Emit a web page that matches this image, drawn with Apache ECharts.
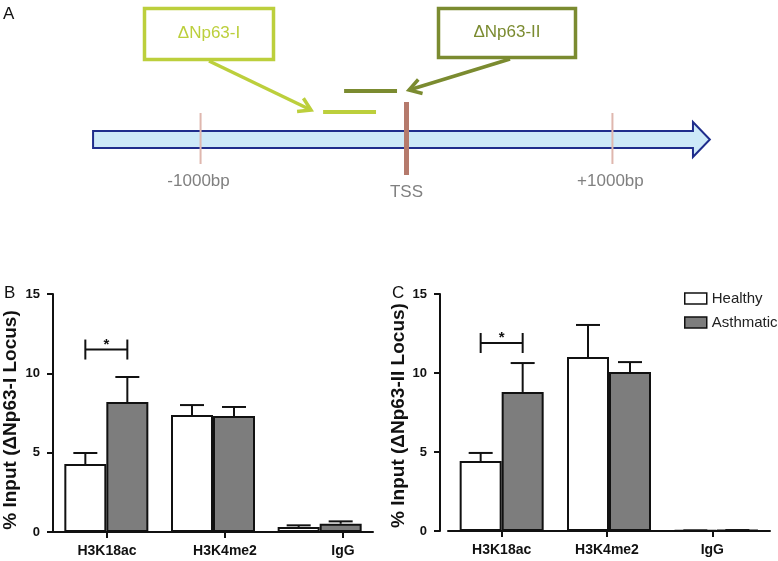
<!DOCTYPE html>
<html>
<head>
<meta charset="utf-8">
<script src="https://cdn.jsdelivr.net/npm/echarts@6/dist/echarts.min.js"></script>
<style>
  html, body { margin: 0; padding: 0; background: #fff; }
  #chart { width: 778px; height: 561px; }
</style>
</head>
<body>
<div id="chart"></div>
<script>
// bar chart data (B: ΔNp63-I locus, C: ΔNp63-II locus)
const categories = ['H3K18ac', 'H3K4me2', 'IgG'];
const healthyI = [4.28, 7.37, 0.32];
const healthyIErr = [0.70, 0.63, 0.10];
const asthmaticI = [8.19, 7.31, 0.52];
const asthmaticIErr = [1.58, 0.57, 0.15];
const healthyII = [4.43, 11.01, 0.03];
const healthyIIErr = [0.51, 2.03, 0.01];
const asthmaticII = [8.80, 10.06, 0.05];
const asthmaticIIErr = [1.83, 0.63, 0.01];
// significance brackets: [category index, height]
const sigI = [[0, 11.5]];
const sigII = [[0, 11.9]];

// promoter diagram (bp relative to TSS)
const geneArrow = [[-1522, 1391, 1473]]; // start, head start, tip
const siteMarks = [-1000, 0, 1000];
const siteLabels = ['-1000bp', 'TSS', '+1000bp'];
const primerSpans = [[-405, -148], [-303, -46]];
const primerNames = ['ΔNp63-I', 'ΔNp63-II'];

const FONT = 'Arial, "Liberation Sans", sans-serif';
const LIGHT = '#bccf3c';
const OLIVE = '#7b8b30';
const HALF = 21; // half bar width, bars sit side by side

function errRender(shift) {
  return function (params, api) {
    const i = api.value(0), m = api.value(1), e = api.value(2);
    const base = api.coord([i, m]);
    const top = api.coord([i, m + e]);
    const x = base[0] + shift;
    const st = { stroke: '#111', lineWidth: 2 };
    return {
      type: 'group',
      children: [
        { type: 'line', shape: { x1: x, y1: base[1], x2: x, y2: top[1] }, style: st },
        { type: 'line', shape: { x1: x - 12, y1: top[1], x2: x + 12, y2: top[1] }, style: st }
      ]
    };
  };
}

function sigRender(params, api) {
  const p = api.coord([api.value(0), api.value(1)]);
  const x1 = p[0] - HALF, x2 = p[0] + HALF, y = p[1];
  const st = { stroke: '#111', lineWidth: 2 };
  return {
    type: 'group',
    children: [
      { type: 'line', shape: { x1: x1, y1: y, x2: x2, y2: y }, style: st },
      { type: 'line', shape: { x1: x1, y1: y - 10, x2: x1, y2: y + 10 }, style: st },
      { type: 'line', shape: { x1: x2, y1: y - 10, x2: x2, y2: y + 10 }, style: st },
      {
        type: 'text', x: p[0], y: y - 5,
        style: { text: '*', fill: '#111', fontSize: 15, fontWeight: 'bold', fontFamily: FONT,
          align: 'center', verticalAlign: 'middle', textAlign: 'center', textVerticalAlign: 'middle' }
      }
    ]
  };
}

function arrowRender(params, api) {
  const xs = api.coord([api.value(0), 0])[0];
  const xh = api.coord([api.value(1), 0])[0];
  const xt = api.coord([api.value(2), 0])[0];
  const yc = params.coordSys.y + 139.5;
  return {
    type: 'polygon',
    shape: { points: [[xs, yc - 8.5], [xh, yc - 8.5], [xh, yc - 17.5], [xt, yc], [xh, yc + 17.5], [xh, yc + 8.5], [xs, yc + 8.5]] },
    style: { fill: '#cde9f8', stroke: '#1f2d8c', lineWidth: 2 }
  };
}

function siteRender(params, api) {
  const bp = api.value(0);
  const x = api.coord([bp, 0])[0];
  const y0 = params.coordSys.y;
  const major = bp === 0;
  return {
    type: 'group',
    children: [
      {
        type: 'line',
        shape: { x1: x, y1: y0 + (major ? 102 : 113), x2: x, y2: y0 + (major ? 175 : 164) },
        style: { stroke: major ? '#b57a6c' : '#dfb7ae', lineWidth: major ? 5 : 2 }
      },
      {
        type: 'text', x: x - (major ? 0 : 2), y: y0 + (major ? 192 : 181),
        style: { text: siteLabels[params.dataIndex], fill: '#808080', fontSize: 17, fontFamily: FONT,
          align: 'center', verticalAlign: 'middle', textAlign: 'center', textVerticalAlign: 'middle' }
      }
    ]
  };
}

function primerRender(params, api) {
  const x1 = api.coord([api.value(0), 0])[0];
  const x2 = api.coord([api.value(1), 0])[0];
  const y = params.coordSys.y + (params.dataIndex === 0 ? 112 : 91);
  return {
    type: 'line',
    shape: { x1: x1, y1: y, x2: x2, y2: y },
    style: { stroke: params.dataIndex === 0 ? LIGHT : OLIVE, lineWidth: 4 }
  };
}

// callout arrow with open head
function callout(x1, y1, x2, y2, color) {
  const a = Math.atan2(y2 - y1, x2 - x1);
  const len = 14, spread = 0.55;
  const p1 = [x2 - len * Math.cos(a - spread), y2 - len * Math.sin(a - spread)];
  const p2 = [x2 - len * Math.cos(a + spread), y2 - len * Math.sin(a + spread)];
  return [
    { type: 'line', shape: { x1: x1, y1: y1, x2: x2, y2: y2 }, style: { stroke: color, lineWidth: 3.5 } },
    { type: 'polyline', shape: { points: [p1, [x2, y2], p2] }, style: { stroke: color, lineWidth: 3.5, fill: null } }
  ];
}

function boxLabel(x, y, w, h, text, color) {
  return [
    { type: 'rect', shape: { x: x, y: y, width: w, height: h }, style: { fill: '#fff', stroke: color, lineWidth: 3.5 } },
    {
      type: 'text', x: x + w / 2, y: y + h / 2 - 1,
      style: { text: text, fill: color, fontSize: 17, fontFamily: FONT,
        align: 'center', verticalAlign: 'middle', textAlign: 'center', textVerticalAlign: 'middle' }
    }
  ];
}

const barAxis = (grid) => ({
  type: 'category', gridIndex: grid, data: categories,
  axisLine: { show: true, lineStyle: { color: '#111', width: 2 } },
  axisTick: { show: false }, axisLabel: { show: false }
});
const labelAxis = (grid) => ({
  type: 'category', gridIndex: grid, data: categories,
  axisLine: { show: false },
  axisTick: { show: true, alignWithLabel: true, length: 6, lineStyle: { color: '#111', width: 2 } },
  axisLabel: { color: '#111', fontSize: 14, fontWeight: 'bold', fontFamily: FONT, margin: 12 }
});
const valueAxis = (grid, name, gap, offset, pad) => ({
  type: 'value', gridIndex: grid, min: 0, max: 15, interval: 5, offset: offset,
  name: name, nameLocation: 'middle', nameGap: gap,
  nameTextStyle: { color: '#111', fontSize: 19, fontWeight: 'bold', fontFamily: FONT, padding: pad },
  axisLine: { show: true, lineStyle: { color: '#111', width: 2 } },
  axisTick: { show: true, length: 6, lineStyle: { color: '#111', width: 2 } },
  axisLabel: { color: '#111', fontSize: 13, fontWeight: 'bold', fontFamily: FONT, margin: 13 },
  splitLine: { show: false }
});
const hiddenValue = (grid) => ({ type: 'value', gridIndex: grid, min: 0, max: 15, show: false });

const barStyle = (fill) => ({ color: fill, borderColor: '#111', borderWidth: 2 });
const panelTitle = (t, x, y) => ({
  text: t, left: x, top: y, padding: 0,
  textStyle: { fontSize: 17, fontWeight: 'normal', color: '#111', fontFamily: FONT }
});

const option = {
  backgroundColor: '#fff',
  animation: false,
  textStyle: { fontFamily: FONT },
  title: [panelTitle('A', 3, 6), panelTitle('B', 4, 285), panelTitle('C', 392, 285)],
  legend: {
    data: ['Healthy', 'Asthmatic'],
    orient: 'vertical', left: 684, top: 291, padding: 0,
    itemWidth: 22, itemHeight: 11, itemGap: 9, icon: 'rect',
    itemStyle: { borderColor: '#111', borderWidth: 1.5 },
    textStyle: { fontSize: 15, color: '#222', fontFamily: FONT }
  },
  grid: [
    { left: 77, width: 659, top: 0, height: 200 },
    { left: 53, width: 320, top: 294, bottom: 29 },
    { left: 48, width: 354, top: 294, bottom: 29 },
    { left: 448, width: 322, top: 294, bottom: 30 },
    { left: 449, width: 316, top: 294, bottom: 30 }
  ],
  xAxis: [
    { type: 'value', gridIndex: 0, min: -1600, max: 1600, show: false },
    barAxis(1), labelAxis(2), barAxis(3), labelAxis(4)
  ],
  yAxis: [
    { type: 'value', gridIndex: 0, min: 0, max: 1, show: false },
    valueAxis(1, '% Input (ΔNp63-I Locus)', 33, 0, [0, 14, 0, 0]),
    hiddenValue(2),
    valueAxis(3, '% Input (ΔNp63-II Locus)', 26, 8, [0, 6, 0, 0]),
    hiddenValue(4)
  ],
  graphic: [
    ...boxLabel(144.5, 8.5, 129, 51, primerNames[0], LIGHT),
    ...boxLabel(438.5, 8.5, 137, 49, primerNames[1], OLIVE),
    ...callout(209, 61, 311, 110, LIGHT),
    ...callout(510, 59, 409, 90, OLIVE)
  ],
  series: [
    // promoter diagram
    { type: 'custom', xAxisIndex: 0, yAxisIndex: 0, data: geneArrow.map(d => d.concat(0)), renderItem: arrowRender, z: 1 },
    { type: 'custom', xAxisIndex: 0, yAxisIndex: 0, data: siteMarks.map(v => [v, 0]), renderItem: siteRender, z: 2 },
    { type: 'custom', xAxisIndex: 0, yAxisIndex: 0, data: primerSpans, renderItem: primerRender, z: 2,
      encode: { x: [0, 1] } },
    // panel B
    { name: 'Healthy', type: 'bar', xAxisIndex: 1, yAxisIndex: 1, data: healthyI, barWidth: 42, barGap: '0%', itemStyle: barStyle('#fff') },
    { name: 'Asthmatic', type: 'bar', xAxisIndex: 1, yAxisIndex: 1, data: asthmaticI, barWidth: 42, barGap: '0%', itemStyle: barStyle('#7d7d7d') },
    { type: 'custom', xAxisIndex: 1, yAxisIndex: 1, z: 3, renderItem: errRender(-HALF),
      data: healthyI.map((v, i) => [i, v, healthyIErr[i]]) },
    { type: 'custom', xAxisIndex: 1, yAxisIndex: 1, z: 3, renderItem: errRender(HALF),
      data: asthmaticI.map((v, i) => [i, v, asthmaticIErr[i]]) },
    { type: 'custom', xAxisIndex: 1, yAxisIndex: 1, z: 3, renderItem: sigRender, data: sigI },
    // panel C
    { name: 'Healthy', type: 'bar', xAxisIndex: 3, yAxisIndex: 3, data: healthyII, barWidth: 42, barGap: '0%', itemStyle: barStyle('#fff') },
    { name: 'Asthmatic', type: 'bar', xAxisIndex: 3, yAxisIndex: 3, data: asthmaticII, barWidth: 42, barGap: '0%', itemStyle: barStyle('#7d7d7d') },
    { type: 'custom', xAxisIndex: 3, yAxisIndex: 3, z: 3, renderItem: errRender(-HALF),
      data: healthyII.map((v, i) => [i, v, healthyIIErr[i]]) },
    { type: 'custom', xAxisIndex: 3, yAxisIndex: 3, z: 3, renderItem: errRender(HALF),
      data: asthmaticII.map((v, i) => [i, v, asthmaticIIErr[i]]) },
    { type: 'custom', xAxisIndex: 3, yAxisIndex: 3, z: 3, renderItem: sigRender, data: sigII }
  ]
};

const chart = echarts.init(document.getElementById('chart'), null, { renderer: 'canvas' });
chart.setOption(option);
window.addEventListener('resize', () => chart.resize());
</script>
</body>
</html>
